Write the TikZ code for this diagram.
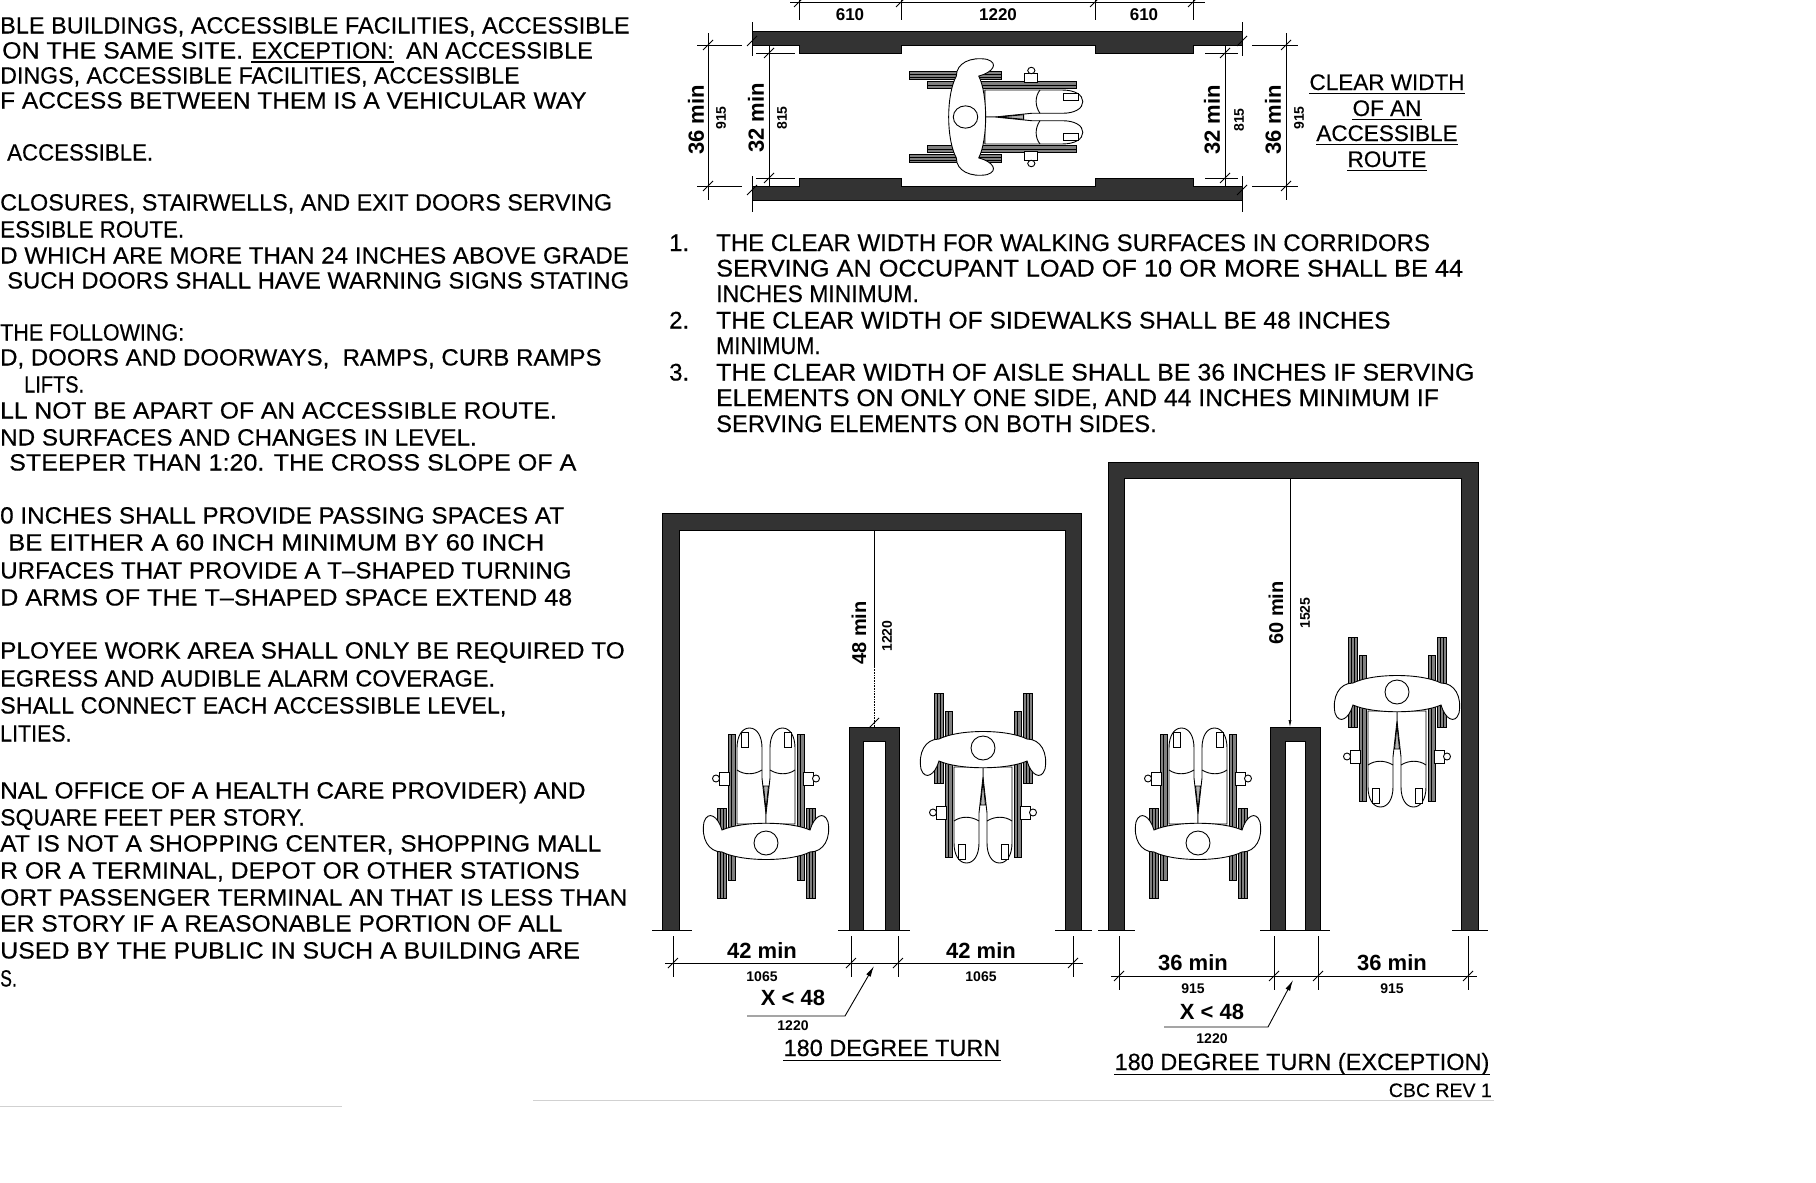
\documentclass[tikz,border=0pt]{standalone}
\usepackage{graphicx}
\usepackage{fontspec}
\setmainfont{Liberation Sans}
\newfontfamily\bodyfont[FakeBold=0.4]{Liberation Sans}
\newcommand{\sx}[2]{\scalebox{#1}[1]{#2}}
\usetikzlibrary{arrows.meta}
\begin{document}
\begin{tikzpicture}[x=1pt,y=-1pt,
  txt/.style={anchor=base west,inner sep=0pt,font=\bodyfont\fontsize{23.5}{28}\selectfont},
  note/.style={anchor=base west,inner sep=0pt,font=\bodyfont\fontsize{24}{28}\selectfont},
  ttl/.style={anchor=base,inner sep=0pt,font=\bodyfont\fontsize{23.5}{28}\selectfont},
  cw/.style={anchor=base,inner sep=0pt,font=\bodyfont\fontsize{22.5}{26}\selectfont},
  dimbig/.style={inner sep=0pt,font=\bfseries\fontsize{22}{24}\selectfont},
  dimmid/.style={inner sep=0pt,font=\bfseries\fontsize{20}{22}\selectfont},
  dimsmall/.style={inner sep=0pt,font=\bfseries\fontsize{14}{16}\selectfont},
  dimtop/.style={inner sep=0pt,font=\bfseries\fontsize{17}{19}\selectfont},
  wall/.style={fill=black!80,draw=black,line width=0.8pt},
  dimline/.style={line width=0.8pt},
  extline/.style={line width=0.6pt},
  ulin/.style={line width=1.4pt},
  leader/.style={line width=0.9pt,-{Latex[length=11pt,width=5pt]}},
  chair/.style={line width=0.9pt},
  wheelfill/.style={fill=black!50,draw=black,line width=0.7pt},
  tk/.pic={\draw[line width=1pt] (-5,5) -- (5,-5);},
  wchair/.pic={
    \foreach \s in {-1,1}{
      \begin{scope}[xscale=\s]
        % large wheel
        \draw[wheelfill] (40,-10) rectangle (49,80);
        \draw[line width=0.5pt] (43,-10) -- (43,80) (46,-10) -- (46,80);
        % frame rail
        \draw[wheelfill] (31,-84) rectangle (38,62);
        \draw[line width=0.5pt] (34.5,-84) -- (34.5,62);
        % brake
        \draw[chair,fill=white] (37,-46) rectangle (47,-33);
        \draw[chair,fill=white] (50,-39.5) circle (3.5);
        % leg
        \draw[chair,fill=white] (0,6) -- (0,-4) -- (4,-40) -- (4,-70)
          .. controls (4,-82) and (9,-90) .. (16.5,-90)
          .. controls (24,-90) and (29,-82) .. (29,-70) -- (29,6) -- cycle;
        \draw[chair] (4,-48) .. controls (12,-43) and (22,-43) .. (29,-48);
        \draw[chair,fill=white] (18,-86) rectangle (25,-71);
      \end{scope}
    }
    \draw[chair,fill=black!30] (-2.5,-32) -- (0,-8) -- (2.5,-32) -- cycle;
    % seat back and arm rests
    \draw[chair,fill=white] (-44,12) .. controls (-48,-2) and (-58,-8) .. (-62,4)
      .. controls (-65,20) and (-58,34) .. (-44,34)
      .. controls (-24,44) and (24,44) .. (44,34)
      .. controls (58,34) and (65,20) .. (62,4)
      .. controls (58,-8) and (48,-2) .. (44,12)
      .. controls (24,3) and (-24,3) .. (-44,12) -- cycle;
    % head
    \draw[chair,fill=white] (0,25) circle (12);
  }
]
\useasboundingbox (0,0) rectangle (1816,1183);
\fill[white] (0,0) rectangle (1816,1183);
\clip (0,0) rectangle (1816,1183);

% ---------------- left text column ----------------
\node[txt] (l1) at (0,33.5) {BLE BUILDINGS, ACCESSIBLE FACILITIES, ACCESSIBLE};
\node[txt] (l2a) at (2,58.5) {\sx{1.06}{ON THE SAME SITE.}};
\node[txt] (l2b) at ([xshift=8pt]l2a.base east) {EXCEPTION:};
\node[txt] (l2c) at ([xshift=12pt]l2b.base east) {AN ACCESSIBLE};
\draw[line width=1.1pt] ([yshift=-3.5pt]l2b.base west) -- ([yshift=-3.5pt]l2b.base east);
\node[txt] (l3) at (0,83.5) {\sx{0.987}{DINGS, ACCESSIBLE FACILITIES, ACCESSIBLE}};
\node[txt] (l4) at (0,108.5) {\sx{1.042}{F ACCESS BETWEEN THEM IS A VEHICULAR WAY}};
\node[txt] (l5) at (7,160.5) {\sx{0.947}{ACCESSIBLE.}};
\node[txt] (l6) at (0,210.5) {\sx{0.995}{CLOSURES, STAIRWELLS, AND EXIT DOORS SERVING}};
\node[txt] (l7) at (0,237.5) {\sx{0.952}{ESSIBLE ROUTE.}};
\node[txt] (l8) at (0,263.5) {\sx{1.029}{D WHICH ARE MORE THAN 24 INCHES ABOVE GRADE}};
\node[txt] (l9) at (7,288.5) {\sx{1.015}{SUCH DOORS SHALL HAVE WARNING SIGNS STATING}};
\node[txt] (l10) at (0,340.5) {\sx{0.915}{THE FOLLOWING:}};
\node[txt] (l11) at (0,365.5) {\sx{1.022}{D, DOORS AND DOORWAYS,\ \ RAMPS, CURB RAMPS}};
\node[txt] (l12) at (24,392.5) {\sx{0.85}{LIFTS.}};
\node[txt] (l13) at (0,418.5) {\sx{1.049}{LL NOT BE APART OF AN ACCESSIBLE ROUTE.}};
\node[txt] (l14) at (0,445.5) {\sx{1.031}{ND SURFACES AND CHANGES IN LEVEL.}};
\node[txt] (l15) at (9,470.5) {\sx{1.068}{STEEPER THAN 1:20. THE CROSS SLOPE OF A}};
\node[txt] (l16) at (0,523.5) {\sx{1.033}{0 INCHES SHALL PROVIDE PASSING SPACES AT}};
\node[txt] (l17) at (8,550.5) {\sx{1.095}{BE EITHER A 60 INCH MINIMUM BY 60 INCH}};
\node[txt] (l18) at (0,578.5) {\sx{1.028}{URFACES THAT PROVIDE A T–SHAPED TURNING}};
\node[txt] (l19) at (0,605.5) {\sx{1.072}{D ARMS OF THE T–SHAPED SPACE EXTEND 48}};
\node[txt] (l20) at (0,658.5) {\sx{1.039}{PLOYEE WORK AREA SHALL ONLY BE REQUIRED TO}};
\node[txt] (l21) at (0,686.5) {EGRESS AND AUDIBLE ALARM COVERAGE.};
\node[txt] (l22) at (0,713.5) {\sx{0.994}{SHALL CONNECT EACH ACCESSIBLE LEVEL,}};
\node[txt] (l23) at (0,741.5) {\sx{0.91}{LITIES.}};
\node[txt] (l24) at (0,798.5) {\sx{1.041}{NAL OFFICE OF A HEALTH CARE PROVIDER) AND}};
\node[txt] (l25) at (0,825.5) {\sx{0.98}{SQUARE FEET PER STORY.}};
\node[txt] (l26) at (0,851.5) {\sx{1.047}{AT IS NOT A SHOPPING CENTER, SHOPPING MALL}};
\node[txt] (l27) at (0,878.5) {\sx{1.051}{R OR A TERMINAL, DEPOT OR OTHER STATIONS}};
\node[txt] (l28) at (0,905.5) {\sx{1.051}{ORT PASSENGER TERMINAL AN THAT IS LESS THAN}};
\node[txt] (l29) at (0,931.5) {\sx{1.05}{ER STORY IF A REASONABLE PORTION OF ALL}};
\node[txt] (l30) at (0,958.5) {\sx{1.062}{USED BY THE PUBLIC IN SUCH A BUILDING ARE}};
\node[txt] (l31) at (0,986.5) {\sx{0.75}{S.}};

% ---------------- notes ----------------
\node[note] (n1) at (669,251) {1.};
\node[note] (n1a) at (716,251) {THE CLEAR WIDTH FOR WALKING SURFACES IN CORRIDORS};
\node[note] (n1b) at (716,276.5) {\sx{1.054}{SERVING AN OCCUPANT LOAD OF 10 OR MORE SHALL BE 44}};
\node[note] (n1c) at (716,302) {\sx{0.956}{INCHES MINIMUM.}};
\node[note] (n2) at (669,328.5) {2.};
\node[note] (n2a) at (716,328.5) {\sx{1.025}{THE CLEAR WIDTH OF SIDEWALKS SHALL BE 48 INCHES}};
\node[note] (n2b) at (716,354) {\sx{0.91}{MINIMUM.}};
\node[note] (n3) at (669,380.5) {3.};
\node[note] (n3a) at (716,380.5) {\sx{1.04}{THE CLEAR WIDTH OF AISLE SHALL BE 36 INCHES IF SERVING}};
\node[note] (n3b) at (716,406) {\sx{1.031}{ELEMENTS ON ONLY ONE SIDE, AND 44 INCHES MINIMUM IF}};
\node[note] (n3c) at (716,432) {\sx{0.99}{SERVING ELEMENTS ON BOTH SIDES.}};

% ---------------- corridor plan ----------------
\draw[wall] (752,31) -- (1242,31) -- (1242,45) -- (1193,45) -- (1193,53) -- (1095,53)
  -- (1095,45) -- (901,45) -- (901,53) -- (799,53) -- (799,45) -- (752,45) -- cycle;
\draw[wall] (752,200) -- (1242,200) -- (1242,186) -- (1193,186) -- (1193,178) -- (1095,178)
  -- (1095,186) -- (901,186) -- (901,178) -- (799,178) -- (799,186) -- (752,186) -- cycle;
\draw[extline] (752,22) -- (752,56) (752,176) -- (752,212)
               (1242,22) -- (1242,56) (1242,176) -- (1242,212);
\pic at (752,41) {tk}; \pic at (752,190) {tk};
\pic at (1242,41) {tk}; \pic at (1242,190) {tk};
% run dimension
\draw[dimline] (790,2) -- (1205,2);
\foreach \xx in {799,901,1095,1193}{
  \draw[extline] (\xx,-2) -- (\xx,20);
  \pic at (\xx,2) {tk};
}
\node[dimtop] (r1) at (850,15) {610};
\node[dimtop] (r2) at (998,15) {1220};
\node[dimtop] (r3) at (1144,15) {610};
% width dimensions
\draw[dimline] (708,33) -- (708,200);
\draw[extline] (697,45) -- (742,45) (697,186) -- (742,186);
\pic at (708,45) {tk}; \pic at (708,186) {tk};
\node[dimbig,rotate=90] (w1) at (696,120) {36 min};
\node[dimsmall,rotate=90] (w1s) at (721,118) {915};
\draw[dimline] (769,45) -- (769,186);
\draw[extline] (756,53) -- (795,53) (756,178) -- (795,178);
\pic at (769,53) {tk}; \pic at (769,178) {tk};
\node[dimbig,rotate=90] (w2) at (756,118) {32 min};
\node[dimsmall,rotate=90] (w2s) at (782,118) {815};
\draw[dimline] (1225,45) -- (1225,186);
\draw[extline] (1205,53) -- (1238,53) (1205,178) -- (1238,178);
\pic at (1225,53) {tk}; \pic at (1225,178) {tk};
\node[dimbig,rotate=90] (w3) at (1212,120) {32 min};
\node[dimsmall,rotate=90] (w3s) at (1239,120) {815};
\draw[dimline] (1286,33) -- (1286,200);
\draw[extline] (1252,45) -- (1298,45) (1252,186) -- (1298,186);
\pic at (1286,45) {tk}; \pic at (1286,186) {tk};
\node[dimbig,rotate=90] (w4) at (1273,120) {36 min};
\node[dimsmall,rotate=90] (w4s) at (1299,118) {915};
% route caption
\node[cw] (c1) at (1387,90) {CLEAR WIDTH};
\node[cw] (c2) at (1387,116) {OF AN};
\node[cw] (c3) at (1387,141) {ACCESSIBLE};
\node[cw] (c4) at (1387,167) {ROUTE};
\foreach \c in {c1,c2,c3,c4}{
  \draw[ulin] ([yshift=-3.5pt]\c.base west) -- ([yshift=-3.5pt]\c.base east);
}
\pic[rotate=-90,xscale=0.93,yscale=1.02] at (991,117) {wchair};

% ---------------- 180 degree turn ----------------
\draw[wall] (662,930) -- (662,513) -- (1081,513) -- (1081,930) -- (1065,930)
  -- (1065,530) -- (679,530) -- (679,930) -- cycle;
\draw[wall] (849,930) -- (849,727) -- (899,727) -- (899,930) -- (885,930)
  -- (885,741) -- (863,741) -- (863,930) -- cycle;
\draw[extline] (652,930) -- (692,930) (838,930) -- (910,930) (1055,930) -- (1092,930);
\draw[extline] (874,530) -- (874,667);
\draw[extline,densely dotted] (874,667) -- (874,727);
\pic at (874,723) {tk};
\node[dimmid,rotate=90] (h1) at (859,633) {48 min};
\node[dimsmall,rotate=90] (h1s) at (887,636) {1220};
\draw[dimline] (665,963) -- (1083,963);
\foreach \xx in {673,851,898,1073}{
  \draw[extline] (\xx,936) -- (\xx,977);
  \pic at (\xx,963) {tk};
}
\node[dimbig] (a1) at (762,951) {42 min};
\node[dimsmall] (a1s) at (762,977) {1065};
\node[dimbig] (a2) at (981,951) {42 min};
\node[dimsmall] (a2s) at (981,977) {1065};
\node[dimbig] (ax) at (793,998) {X < 48};
\node[dimsmall] (axs) at (793,1026) {1220};
\coordinate (ala) at (747,1016);
\coordinate (alb) at (845,1016);
\coordinate (alc) at (874,966);
\draw[leader] (ala) -- (alb) -- (alc);
\node[ttl] (t1) at (892,1056) {180 DEGREE TURN};
\draw[ulin] ([yshift=-4.5pt]t1.base west) -- ([yshift=-4.5pt]t1.base east);
\pic at (766,818) {wchair};
\pic[rotate=180] at (983,773) {wchair};

% ---------------- 180 degree turn, exception ----------------
\draw[wall] (1108,930) -- (1108,462) -- (1478,462) -- (1478,930) -- (1461,930)
  -- (1461,478) -- (1124,478) -- (1124,930) -- cycle;
\draw[wall] (1270,930) -- (1270,727) -- (1320,727) -- (1320,930) -- (1305,930)
  -- (1305,741) -- (1285,741) -- (1285,930) -- cycle;
\draw[extline] (1098,930) -- (1135,930) (1260,930) -- (1330,930) (1452,930) -- (1488,930);
\draw[extline,-{Latex[length=7pt,width=3pt]}] (1290,478) -- (1290,727);
\node[dimmid,rotate=90] (h2) at (1276,613) {60 min};
\node[dimsmall,rotate=90] (h2s) at (1305,613) {1525};
\draw[dimline] (1111,976) -- (1477,976);
\foreach \xx in {1119,1274,1318,1468}{
  \draw[extline] (\xx,936) -- (\xx,990);
  \pic at (\xx,976) {tk};
}
\node[dimbig] (b1) at (1193,963) {36 min};
\node[dimsmall] (b1s) at (1193,989) {915};
\node[dimbig] (b2) at (1392,963) {36 min};
\node[dimsmall] (b2s) at (1392,989) {915};
\node[dimbig] (bx) at (1212,1012) {X < 48};
\node[dimsmall] (bxs) at (1212,1039) {1220};
\coordinate (bla) at (1164,1027);
\coordinate (blb) at (1268,1027);
\coordinate (blc) at (1293,980);
\draw[leader] (bla) -- (blb) -- (blc);
\node[ttl] (t2) at (1302,1070) {180 DEGREE TURN (EXCEPTION)};
\draw[ulin] ([yshift=-4.5pt]t2.base west) -- ([yshift=-4.5pt]t2.base east);
\node[anchor=base east,inner sep=0pt,font=\bodyfont\fontsize{19.5}{21}\selectfont] (rev) at (1492,1097) {CBC REV 1};
\pic at (1198,818) {wchair};
\pic[rotate=180] at (1397,717) {wchair};

% sheet edge
\draw[black!18,line width=1pt] (533,1100) -- (1494,1100);
\draw[black!18,line width=1pt] (0,1106) -- (342,1106);
\end{tikzpicture}
\end{document}
